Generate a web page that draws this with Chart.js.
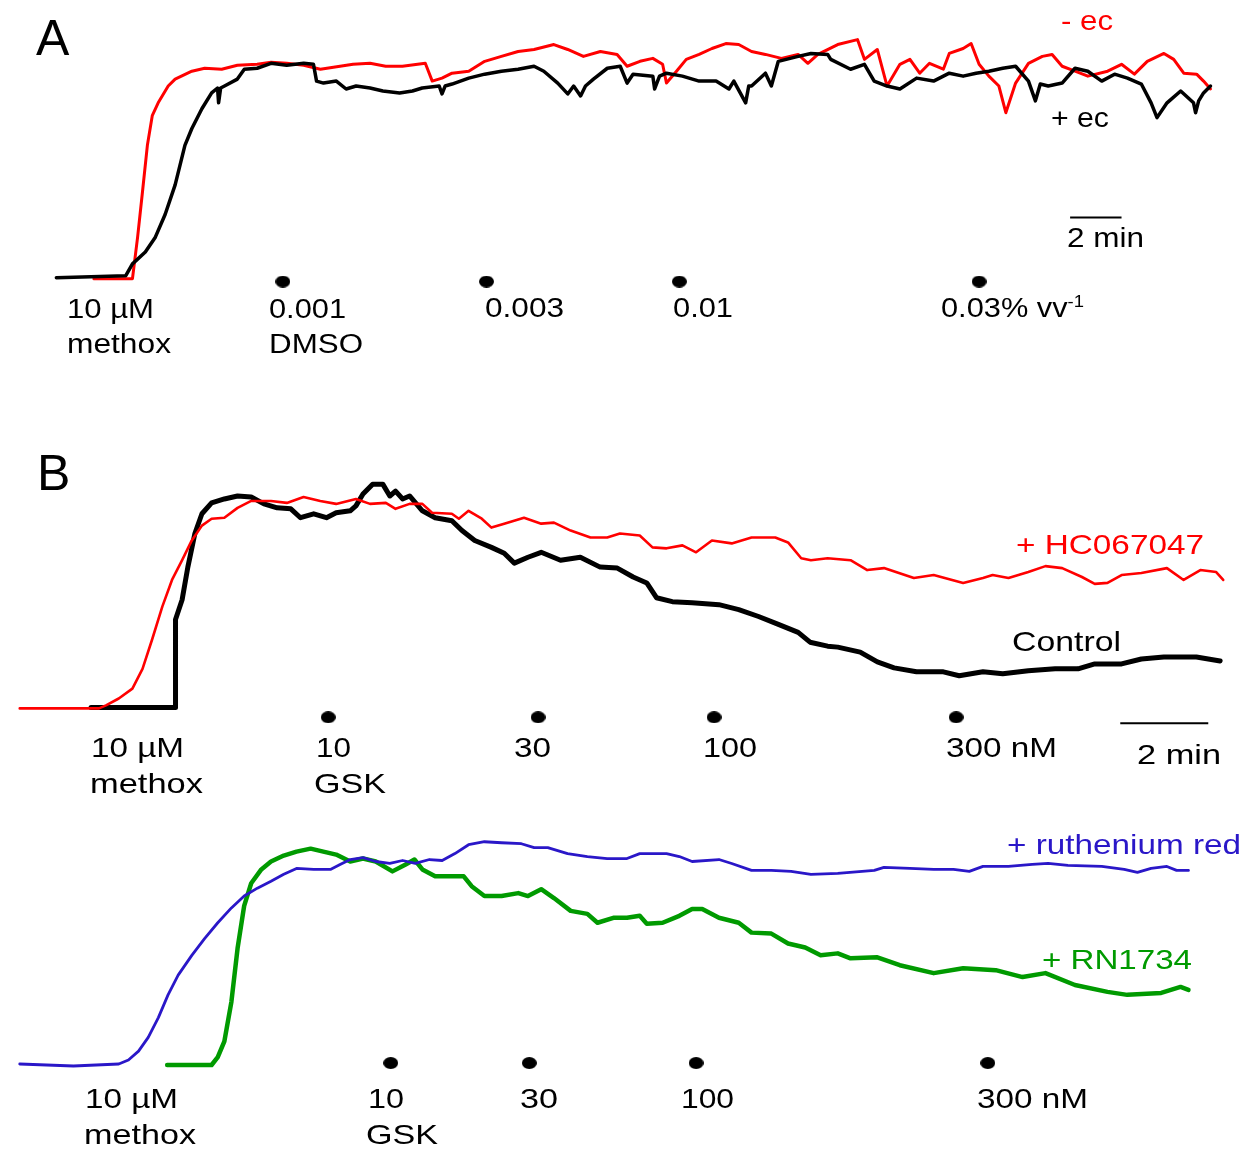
<!DOCTYPE html>
<html>
<head>
<meta charset="utf-8">
<script src="https://cdn.jsdelivr.net/npm/chart.js@4.4.1/dist/chart.umd.min.js"></script>
<style>
html,body{margin:0;padding:0;background:#fff;}
#wrap{position:relative;width:1255px;height:1153px;overflow:hidden;}
#c{position:absolute;left:0;top:0;}
.lbl{position:absolute;white-space:nowrap;line-height:1;font-family:"Liberation Sans",Arial,sans-serif;transform-origin:0 0;}
.lbl sup{font-size:0.6em;vertical-align:0.6em;line-height:0;}
</style>
</head>
<body>
<div id="wrap"><canvas id="c" width="1255" height="1153"></canvas></div>
<script>
// ---------- DATA (time in min, response in a.u.) ----------
// Panel A: 10 µM methoxyestradiol, then DMSO 0.001-0.03 % v/v
const timeA_minusEc = [1.38,2.81,2.88,3.08,3.27,3.46,3.65,3.88,4.27,4.54,5.19,5.69,6.35,6.96,7.73,8.27,8.88,9.54,10.19,11.46,12.12,12.73,13.38,14.27,14.54,14.92,15.31,15.96,16.58,17.23,17.88,18.5,19.27,19.81,20.42,21.08,21.73,22.12,22.62,23.12,23.5,23.65,24.04,24.42,24.92,25.42,25.96,26.46,26.96,27.5,28.12,28.77,29.15,29.54,30.31,31.08,31.35,31.85,32.23,32.73,33.12,33.5,33.88,34.42,34.65,35.19,35.5,35.81,36.19,36.58,36.85,37.23,37.73,38.27,38.65,39.04,39.54,40.04,40.81,41.35,41.85,42.35,43.0,43.38,43.77,44.27,44.54,44.81];
const valA_minusEc = [-0.5,-0.5,-0.5,20.5,43.5,67,82,88.5,97,100.5,104.5,106,105.5,107.5,108,109,108.5,107.5,105.5,108,108.5,107,107,108.5,99.5,101,103.5,104.5,109.5,112,114.5,115.5,118,115.5,112,114.5,113,107,109.5,111,108,98.5,104.5,110.5,113,116,118.5,118,114.5,113,111,113,108.5,113,118,120.5,110.5,115.5,97,108,110.5,103.5,108.5,105.5,113.5,116,118.5,108,102,97,83.5,98.5,108.5,112,113,107,104.5,102,104.5,108,103,109.5,113.5,110.5,103.5,103,99.5,95.5];
const timeA_plusEc = [-0.08,2.62,2.88,3.38,3.77,4.15,4.54,4.92,5.19,5.58,5.96,6.19,6.23,6.31,6.46,6.96,7.23,7.73,8.27,8.88,9.54,9.92,10.04,10.31,10.81,11.19,11.58,12.12,12.62,13.27,13.77,14.15,14.81,14.92,15.04,15.31,15.96,16.58,17.23,17.88,18.5,18.88,19.42,19.81,20.04,20.31,20.5,20.81,21.35,21.85,22.12,22.35,23.12,23.19,23.38,23.65,24.27,24.92,25.58,26.08,26.27,26.73,26.85,26.96,27.5,27.73,28.0,28.77,29.27,29.92,30.04,30.81,31.35,31.73,32.23,32.73,33.38,34.04,34.65,35.19,35.69,36.19,36.73,37.23,37.73,38.0,38.19,38.5,39.04,39.54,40.04,40.58,41.08,41.58,42.12,42.5,42.73,43.12,43.65,44.15,44.23,44.35,44.54,44.81];
const valA_plusEc = [0,1,7,13,20.5,32,47,67,75.5,85.5,93.5,96,88.5,96,97,100.5,105.5,106,108.5,107.5,108.5,108,99.5,98.5,99.5,95.5,97,96,94.5,93.5,94.5,96,97,93,97,98,101,103,104.5,105.5,107,104.5,98.5,93,97,92,97,100.5,106,107,98.5,103,102,95.5,102,103.5,102,99.5,99.5,95.5,99.5,88.5,97,97,103.5,97,109.5,112,113.5,113,110.5,105.5,108,99.5,97,95.5,101,99.5,103.5,102,103.5,104.5,106,107,99.5,89.5,98,97,98.5,106,104.5,99.5,103,101,98,88.5,81,88.5,94.5,88.5,83.5,89.5,93.5,97];
const doseTimesA = [8.73,16.65,24.15,35.81];

// Panel B: GSK1016790A 10-300 nM, control vs + HC067047
const timeB_hc = [0.02,1.82,1.98,2.27,2.58,2.81,3.03,3.26,3.48,3.71,3.93,4.16,4.38,4.67,4.97,5.28,5.73,6.09,6.47,6.85,7.21,7.66,7.98,8.34,8.56,8.88,9.17,9.39,9.84,10.0,10.22,10.52,10.74,11.03,11.48,11.87,12.16,12.54,12.99,13.37,13.66,14.11,14.4,14.72,15.08,15.39,15.75,16.2,16.65,17.19,17.48,17.78,18.0,18.38,18.9,19.28,19.66,20.34,20.79,21.46,21.91,22.13,22.49,22.94,23.33,23.71,24.16,24.45,24.74,25.06,25.51,26.09,26.47,26.85,27.21,27.37];
const valB_hc = [-0.5,-0.5,1,4.5,9.5,19.5,34.5,51,64.5,74.5,84.5,92,95.5,96,101,104.5,104.5,103.5,106.5,104.5,103,105.5,103,103.5,100.5,103,103,98.5,98,95.5,99.5,95.5,91,93,96,93,93.5,89.5,86,86,88,87,81,80.5,82,78.5,84.5,83,86,86,83.5,75.5,74.5,75.5,74.5,69.5,70.5,65.5,67,63,65.5,67,65.5,68.5,71.5,70.5,66,62.5,63,67,68,70.5,64.5,69.5,68.5,64.5];
const timeB_control = [1.64,3.55,3.56,3.71,3.84,4.0,4.16,4.38,4.67,4.97,5.28,5.57,5.87,6.18,6.4,6.7,6.99,7.21,7.53,7.66,7.82,8.04,8.27,8.43,8.56,8.72,8.88,9.17,9.46,9.84,10.07,10.36,10.74,11.03,11.26,11.57,11.87,12.31,12.76,13.21,13.6,13.96,14.27,14.49,14.85,15.3,15.91,16.36,16.81,17.26,17.71,17.98,18.38,18.61,19.12,19.51,19.89,20.4,21.01,21.37,21.91,22.36,22.94,23.55,24.07,24.45,25.06,25.51,26.02,26.76,27.3];
const valB_control = [0,0,44.5,54.5,71,88,98,103.5,105.5,107,106.5,103,101,100.5,96,98,96,98.5,99.5,102,108,113,113,107,109.5,105.5,107,99.5,96,94.5,89.5,84.5,81,78,73,76,78.5,74.5,76,71,70.5,66,63,55.5,53.5,53,52,49.5,46,42,38,33,31,30.5,28,23,20,18,18,16,18,17,18.5,19.5,19.5,22,22,24.5,25.5,25.5,23.5];
const doseTimesB = [7.03,11.8,15.8,21.3];

// Panel C: + ruthenium red vs + RN1734
const timeC_rr = [0.02,1.24,2.27,2.49,2.72,2.94,3.17,3.39,3.62,3.93,4.22,4.52,4.83,5.12,5.42,5.73,6.02,6.31,6.7,7.08,7.3,7.53,7.82,8.11,8.43,8.72,9.01,9.33,9.62,9.91,10.22,10.58,10.97,11.42,11.71,12.02,12.47,12.92,13.37,13.82,14.11,14.72,15.01,15.3,15.91,16.2,16.65,17.1,17.55,18.0,18.61,19.44,19.66,20.25,20.79,21.24,21.6,21.91,22.49,23.03,23.39,23.84,24.61,25.12,25.42,25.73,26.09,26.31,26.58];
const valC_rr = [0,-1,0,2,6.5,13.5,23.5,35,45,55,63.5,71.5,79,85,89,92.5,96,99,98.5,98.5,101,103.5,104.5,102.5,101.5,103,101.5,103.5,103,106.5,111,112.5,112,111.5,109.5,109.5,106.5,105,104,104,106.5,106.5,105,102.5,103.5,101.5,98,98,97.5,96,96.5,98,99.5,99,98.5,98.5,97.5,100,100,101,101.5,100.5,100,98.5,97,99,100,98,98];
const timeC_rn = [3.37,4.38,4.52,4.67,4.83,4.97,5.12,5.28,5.51,5.73,6.02,6.31,6.63,6.92,7.21,7.53,7.82,8.11,8.49,8.79,8.99,9.17,9.46,9.84,10.11,10.29,10.58,10.97,11.35,11.57,11.87,12.16,12.54,12.92,13.15,13.51,13.82,14.11,14.27,14.63,15.01,15.3,15.53,15.91,16.36,16.65,17.1,17.48,17.87,18.22,18.61,18.9,19.51,20.02,20.79,21.46,22.2,22.81,23.33,24.0,24.74,25.19,25.96,26.4,26.58];
const valC_rn = [-0.5,-0.5,3.5,11.5,31.5,58.5,80,91.5,98.5,102.5,105.5,107.5,109,107.5,106,102.5,104,102.5,97.5,101,103.5,98.5,95,95,95,90,85,85,86.5,85,88.5,84,77.5,76,71.5,74,74,75,71,71.5,75,78.5,78.5,74,71.5,66.5,66,61,59,55,56,53.5,54,50,46,48.5,47.5,44,46,40,36.5,35,36,39,37.5];
const doseTimesC = [8.45,11.6,15.39,22.02];

const scaleBarMinutes = 2;

// ---------- LAYOUT ----------
function pts(ts, vs){ const n=Math.min(ts.length, vs.length); const o=[]; for(let i=0;i<n;i++) o.push({x:ts[i], y:vs[i]}); return o; }
function ellipse(w,h){ const c=document.createElement('canvas'); c.width=w; c.height=h; const g=c.getContext('2d'); g.fillStyle='#000'; g.beginPath(); g.ellipse(w/2,h/2,w/2,h/2,0,0,Math.PI*2); g.fill(); return c; }
const dotImg = ellipse(15,12);

const RED='#ff0000', BLACK='#000000', BLUE='#2a17c8', GREEN='#009a00';

function trace(data, color, width, xid, yid, order){
  return {type:'line', data, borderColor:color, borderWidth:width, pointRadius:0, tension:0, fill:false, xAxisID:xid, yAxisID:yid, order, borderJoinStyle:'round', borderCapStyle:'round'};
}
function dots(times, level, xid, yid){
  return {type:'line', data: times.map(t=>({x:t,y:level})), showLine:false, pointStyle:dotImg, pointRadius:6, xAxisID:xid, yAxisID:yid, order:0};
}
function bar(start, level, xid, yid){
  return {type:'line', data:[{x:start,y:level},{x:start+scaleBarMinutes,y:level}], borderColor:'#000', borderWidth:2, pointRadius:0, xAxisID:xid, yAxisID:yid, order:0};
}

const datasets = [
  trace(pts(timeA_minusEc, valA_minusEc), RED, 3, 'xA','yA', 2),
  trace(pts(timeA_plusEc, valA_plusEc), BLACK, 3.5, 'xA','yA', 1),
  dots(doseTimesA, -2, 'xA','yA'),
  bar(39.35, 30.5, 'xA','yA'),
  trace(pts(timeB_control, valB_control), BLACK, 5, 'xB','yB', 2),
  trace(pts(timeB_hc, valB_hc), RED, 2.6, 'xB','yB', 1),
  dots(doseTimesB, -5, 'xB','yB'),
  bar(25.03, -8, 'xB','yB'),
  trace(pts(timeC_rn, valC_rn), GREEN, 4.5, 'xB','yC', 2),
  trace(pts(timeC_rr, valC_rr), BLUE, 2.8, 'xB','yC', 1),
  dots(doseTimesC, 0.5, 'xB','yC')
];

const hid = {type:'linear', display:false, bounds:'data', grid:{display:false}, ticks:{display:false}};
new Chart(document.getElementById('c'), {
  type:'line',
  data:{datasets},
  options:{
    responsive:false, devicePixelRatio:1, animation:false, events:[],
    layout:{padding:0},
    plugins:{legend:{display:false}, tooltip:{enabled:false}, title:{display:false}},
    scales:{
      xA:Object.assign({}, hid, {axis:'x', min:-2, max:46.269}),
      yA:Object.assign({}, hid, {axis:'y', min:-439.5, max:137}),
      xB:Object.assign({}, hid, {axis:'x', min:-0.2697, max:27.933}),
      yB:Object.assign({}, hid, {axis:'y', min:-222, max:354.5}),
      yC:Object.assign({}, hid, {axis:'y', min:-41.5, max:535})
    }
  }
});

// ---------- TEXT ----------
const labels = [
  {t:'A', x:36, b:55, s:50},
  {t:'- ec', x:1061, b:31, s:27, w:50, c:RED},
  {t:'+ ec', x:1051, b:128, s:27, w:56},
  {t:'2 min', x:1067, b:248, s:27, w:75},
  {t:'10 µM', x:67, b:319, s:27, w:85},
  {t:'methox', x:67, b:354, s:27, w:102},
  {t:'0.001', x:269, b:319, s:27, w:75},
  {t:'DMSO', x:269, b:354, s:27, w:92},
  {t:'0.003', x:485, b:318, s:27, w:77},
  {t:'0.01', x:673, b:318, s:27, w:58},
  {t:'0.03% vv<sup>-1</sup>', x:941, b:318, s:27, w:141},

  {t:'B', x:37, b:490, s:50},
  {t:'+ HC067047', x:1016, b:555, s:28, w:186, c:RED},
  {t:'Control', x:1012, b:652, s:28, w:107},
  {t:'10 µM', x:91, b:758, s:28, w:91},
  {t:'methox', x:90, b:794, s:28, w:111},
  {t:'10', x:316, b:758, s:28, w:33},
  {t:'GSK', x:314, b:794, s:28, w:70},
  {t:'30', x:514, b:758, s:28, w:35},
  {t:'100', x:703, b:758, s:28, w:52},
  {t:'300 nM', x:946, b:758, s:28, w:109},
  {t:'2 min', x:1137, b:765, s:28, w:82},

  {t:'+ ruthenium red', x:1007, b:855, s:28, w:232, c:BLUE},
  {t:'+ RN1734', x:1042, b:970, s:28, w:148, c:GREEN},
  {t:'10 µM', x:85, b:1109, s:28, w:91},
  {t:'methox', x:84, b:1145, s:28, w:110},
  {t:'10', x:368, b:1109, s:28, w:34},
  {t:'GSK', x:366, b:1145, s:28, w:70},
  {t:'30', x:520, b:1109, s:28, w:36},
  {t:'100', x:681, b:1109, s:28, w:51},
  {t:'300 nM', x:977, b:1109, s:28, w:109}
];
const wrap = document.getElementById('wrap');
labels.forEach(l=>{
  const d=document.createElement('div');
  d.className='lbl';
  d.innerHTML=l.t;
  d.style.fontSize=l.s+'px';
  d.style.color=l.c||'#000';
  d.style.left=l.x+'px';
  d.style.top=(l.b-0.8465*l.s)+'px';
  wrap.appendChild(d);
  if(l.w){ const w=d.getBoundingClientRect().width; d.style.transform='scaleX('+((l.w+2)/w).toFixed(4)+')'; }
});
</script>
</body>
</html>
